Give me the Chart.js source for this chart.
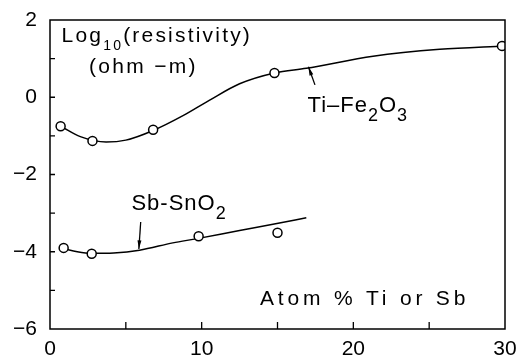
<!DOCTYPE html>
<html lang="en">

<head>
  <meta charset="UTF-8">
  <title>Resistivity vs dopant</title>
  <script src="https://cdn.jsdelivr.net/npm/chart.js@4.4.0/dist/chart.umd.min.js"></script>
  <style>
    body { margin: 0; background: #fff; }
  </style>
</head>

<body>
  <canvas id="resistivity" width="517" height="356"></canvas>

  <script>
    // measured points (atom %, log10 resistivity)
    const tiX = [0.7, 2.8, 6.8, 14.8, 29.8];
    const tiY = [-0.75, -1.13, -0.84, 0.63, 1.33];
    const sbX = [0.9, 2.75, 9.8, 15.0];
    const sbY = [-3.9, -4.05, -3.6, -3.51];

    // hand drawn fit curves
    const tiCurveX = [0.7, 2.0, 3.7, 5.0, 6.8, 8.8, 10.5, 12.5, 14.8, 16.9, 21.3, 25.7, 30];
    const tiCurveY = [-0.75, -1.02, -1.16, -1.11, -0.86, -0.47, -0.08, 0.35, 0.63, 0.75, 1.06, 1.24, 1.33];
    const sbCurveX = [0.9, 1.8, 2.75, 4.2, 5.9, 8.1, 9.7, 12.5, 14.7, 16.9];
    const sbCurveY = [-3.92, -4.0, -4.04, -4.03, -3.96, -3.77, -3.66, -3.45, -3.29, -3.12];

    const xTicks = [0, 10, 20, 30];
    const yTicks = [2, 0, -2, -4, -6];

    const FONT = '"Liberation Sans", Arial, sans-serif';

    const pts = (xs, ys) => xs.map((x, i) => ({ x: x, y: ys[i] }));
    const fmt = v => (v < 0 ? '\u2212' + Math.abs(v) : String(v));

    // text pieces: [string, subscript?], anchored at data coords (left, baseline)
    const notes = [
      { x: 0.76, y: 1.44, size: 21, spacing: 2.2, subScale: 0.65, parts: [['Log', 0], ['10', 1], ['(resistivity)', 0]] },
      { x: 2.57, y: 0.64, size: 21, spacing: 2.3, parts: [['(ohm \u2212m)', 0]] },
      { x: 16.98, y: -0.38, size: 22, spacing: 1, subScale: 0.8, parts: [['Ti\u2013Fe', 0], ['2', 1], ['O', 0], ['3', 1]] },
      { x: 5.37, y: -2.92, size: 22, spacing: 1, subScale: 0.8, parts: [['Sb-Sn', 0], ['O', 0], ['2', 1]] },
      { x: 13.85, y: -5.38, size: 21, spacing: 3.8, parts: [['Atom % Ti or Sb', 0]] }
    ];
    const arrows = [
      { from: [17.47, 0.32], to: [17.04, 0.79] },
      { from: [5.98, -3.23], to: [5.86, -3.93] }
    ];

    const framePlugin = {
      id: 'frame',
      afterDraw(chart) {
        const ctx = chart.ctx;
        const a = chart.chartArea;
        const xs = chart.scales.x;
        const ys = chart.scales.y;
        ctx.save();
        ctx.strokeStyle = '#000';
        ctx.fillStyle = '#000';
        ctx.lineWidth = 1.5;
        ctx.strokeRect(a.left, a.top, a.right - a.left, a.bottom - a.top);

        // inward ticks
        ctx.lineWidth = 1.3;
        ctx.beginPath();
        for (let v = 5; v < 30; v += 5) {
          const px = xs.getPixelForValue(v);
          ctx.moveTo(px, a.bottom);
          ctx.lineTo(px, a.bottom - 7);
        }
        for (let v = -5; v < 2; v += 1) {
          const py = ys.getPixelForValue(v);
          ctx.moveTo(a.left, py);
          ctx.lineTo(a.left + 5, py);
        }
        ctx.stroke();

        // arrows
        arrows.forEach(ar => {
          const x0 = xs.getPixelForValue(ar.from[0]), y0 = ys.getPixelForValue(ar.from[1]);
          const x1 = xs.getPixelForValue(ar.to[0]), y1 = ys.getPixelForValue(ar.to[1]);
          const ang = Math.atan2(y1 - y0, x1 - x0);
          ctx.lineWidth = 1.3;
          ctx.beginPath();
          ctx.moveTo(x0, y0);
          ctx.lineTo(x1, y1);
          ctx.stroke();
          ctx.beginPath();
          ctx.moveTo(x1, y1);
          ctx.lineTo(x1 - 9 * Math.cos(ang - 0.22), y1 - 9 * Math.sin(ang - 0.22));
          ctx.lineTo(x1 - 9 * Math.cos(ang + 0.22), y1 - 9 * Math.sin(ang + 0.22));
          ctx.closePath();
          ctx.fill();
        });

        // labels
        ctx.textBaseline = 'alphabetic';
        ctx.textAlign = 'left';
        notes.forEach(n => {
          let x = xs.getPixelForValue(n.x);
          const y = ys.getPixelForValue(n.y);
          ctx.letterSpacing = (n.spacing || 0) + 'px';
          n.parts.forEach(p => {
            const sub = p[1];
            ctx.font = (sub ? Math.round(n.size * (n.subScale || 0.7)) : n.size) + 'px ' + FONT;
            ctx.fillText(p[0], x, sub ? y + n.size * 0.42 : y);
            x += ctx.measureText(p[0]).width;
          });
        });
        ctx.restore();
      }
    };

    const ctx = document.getElementById('resistivity').getContext('2d');
    const chart = new Chart(ctx, {
      type: 'scatter',
      data: {
        datasets: [{
          label: 'Ti-Fe2O3 data',
          data: pts(tiX, tiY),
          pointRadius: 4.5,
          pointBackgroundColor: '#fff',
          pointBorderColor: '#000',
          pointBorderWidth: 1.5,
          order: 0
        }, {
          label: 'Sb-SnO2 data',
          data: pts(sbX, sbY),
          pointRadius: 4.5,
          pointBackgroundColor: '#fff',
          pointBorderColor: '#000',
          pointBorderWidth: 1.5,
          order: 0
        }, {
          type: 'line',
          label: 'Ti-Fe2O3 fit',
          data: pts(tiCurveX, tiCurveY),
          borderColor: '#000',
          borderWidth: 1.5,
          pointRadius: 0,
          cubicInterpolationMode: 'monotone',
          fill: false,
          order: 1
        }, {
          type: 'line',
          label: 'Sb-SnO2 fit',
          data: pts(sbCurveX, sbCurveY),
          borderColor: '#000',
          borderWidth: 1.5,
          pointRadius: 0,
          cubicInterpolationMode: 'monotone',
          fill: false,
          order: 1
        }]
      },
      options: {
        responsive: false,
        animation: false,
        devicePixelRatio: 1,
        layout: { padding: { top: 20, right: 12, left: 0, bottom: 0 } },
        plugins: {
          legend: { display: false },
          tooltip: { enabled: false }
        },
        scales: {
          x: {
            type: 'linear',
            min: 0,
            max: 30,
            afterFit: s => { s.height = 27; s.paddingLeft = 0; s.paddingRight = 0; },
            border: { display: false },
            grid: { display: false, drawOnChartArea: false, tickLength: 0 },
            afterBuildTicks: s => { s.ticks = xTicks.map(v => ({ value: v })); },
            ticks: {
              padding: 8,
              maxRotation: 0,
              autoSkip: false,
              color: '#000',
              font: { family: FONT, size: 21 },
              callback: v => fmt(v)
            }
          },
          y: {
            min: -6,
            max: 2,
            afterFit: s => { s.width = 50; s.paddingTop = 0; s.paddingBottom = 0; },
            border: { display: false },
            grid: { display: false, drawOnChartArea: false, tickLength: 0 },
            afterBuildTicks: s => { s.ticks = yTicks.map(v => ({ value: v })); },
            ticks: {
              padding: 13,
              color: '#000',
              font: { family: FONT, size: 21 },
              callback: v => fmt(v)
            }
          }
        }
      },
      plugins: [framePlugin]
    });
  </script>
</body>

</html>
